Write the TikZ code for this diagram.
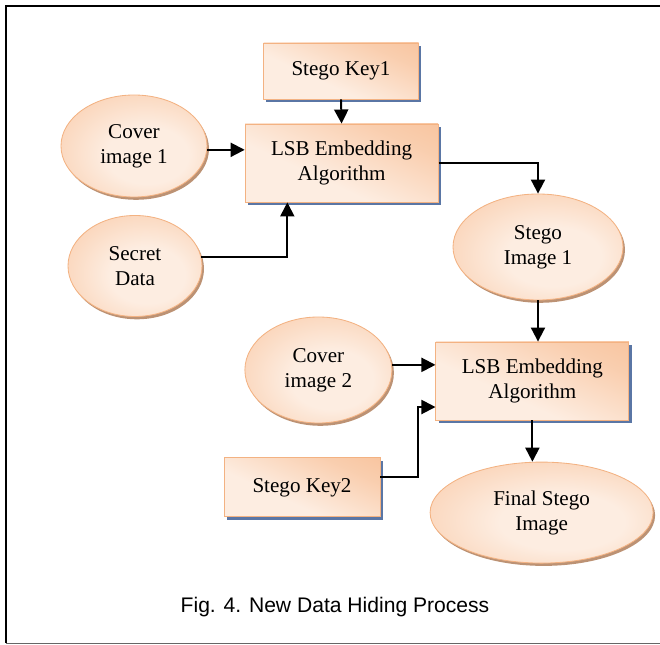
\documentclass[tikz,border=0pt]{standalone}
\usepackage{fontspec}
\setmainfont{Liberation Serif}
\newfontfamily\capfont{Liberation Sans}
\usetikzlibrary{arrows.meta,positioning,calc,shapes.geometric,shadows}
\definecolor{peach}{RGB}{247,186,142}
\definecolor{peachlight}{RGB}{253,237,225}
\definecolor{peachedge}{RGB}{243,178,130}
\definecolor{boxshade}{RGB}{90,118,165}
\definecolor{ovalshade}{RGB}{188,146,116}
\pgfdeclareradialshading{ovalglow}{\pgfpoint{6bp}{-6bp}}{%
  color(0bp)=(peachlight); color(14bp)=(peachlight);
  color(34bp)=(peach!55!peachlight); color(48bp)=(peach); color(60bp)=(peach)}
\pgfdeclareverticalshading{boxglow}{100bp}{%
  color(0bp)=(peachlight); color(40bp)=(peachlight); color(70bp)=(peach!60!peachlight);
  color(100bp)=(peach)}

\begin{document}
\begin{tikzpicture}[
  font=\fontsize{15}{17.8}\selectfont,
  procbox/.style={rectangle,draw=peachedge,line width=0.6pt,align=center,
    shading=boxglow,shading angle=-25,
    drop shadow={shadow xshift=0.07cm,shadow yshift=-0.07cm,
      fill=boxshade,opacity=1}},
  dataoval/.style={ellipse,draw=peachedge,line width=0.6pt,align=center,
    inner sep=0pt,shading=ovalglow,
    drop shadow={shadow xshift=0.05cm,shadow yshift=-0.07cm,
      fill=ovalshade,opacity=1}},
  arr/.style={-{Triangle[length=10pt,width=10pt]},line width=1.4pt}]

\useasboundingbox (0,0) rectangle (16.5,16.125);
% page frame
\draw[line width=1.6pt] (0.15,0.05) -- (0.15,15.975) -- (16.5,15.975);
\draw[line width=0.6pt,black!60] (0.15,0.05) -- (16.5,0.05);

\node[procbox,minimum width=3.875cm,minimum height=1.4cm] (key1) at (8.525,14.35)
  {Stego Key1};
\node[procbox,minimum width=4.825cm,minimum height=1.95cm] (lsb1) at (8.54,12.05)
  {LSB Embedding\\Algorithm};
\node[dataoval,minimum width=3.65cm,minimum height=2.55cm] (cov1) at (3.35,12.475)
  {Cover\\image 1};
\node[dataoval,minimum width=3.35cm,minimum height=2.525cm] (sec) at (3.375,9.475)
  {Secret\\Data};
\node[dataoval,minimum width=4.25cm,minimum height=2.65cm] (st1) at (13.45,9.95)
  {Stego\\Image 1};
\node[dataoval,minimum width=3.675cm,minimum height=2.65cm] (cov2) at (7.96,6.875)
  {Cover\\image 2};
\node[procbox,minimum width=4.825cm,minimum height=1.95cm] (lsb2) at (13.31,6.6)
  {LSB Embedding\\Algorithm};
\node[procbox,minimum width=3.9cm,minimum height=1.475cm] (key2) at (7.55,3.94)
  {Stego Key2};
\node[dataoval,minimum width=5.575cm,minimum height=2.525cm] (fin) at (13.54,3.31)
  {Final Stego\\Image};
\node[font=\capfont\fontsize{15}{18}\selectfont,anchor=base] (cap) at (8.375,0.8)
  {Fig. 4. New Data Hiding Process};

% first embedding
\draw[arr] (key1.south) -- (lsb1.north);
\draw[arr] (cov1.-3) -- (cov1.-3 -| lsb1.west);
\draw[arr] (sec.8) -| ($(lsb1.south west)!0.22!(lsb1.south east)$);
\draw[arr] (lsb1.east) -| (st1.north);
% second embedding
\draw[arr] (st1.south) -- (st1.south |- lsb2.north);
\draw[arr] (cov2.4) -- (cov2.4 -| lsb2.west);
\coordinate (k2out) at ($(key2.north east)!0.32!(key2.south east)$);
\coordinate (in2) at ($(lsb2.north west)!0.83!(lsb2.south west)$);
\draw[arr] (k2out) -- ++(0.95,0) |- (in2);
\draw[arr] (lsb2.south) -- (lsb2.south |- fin.north);
\end{tikzpicture}
\end{document}
